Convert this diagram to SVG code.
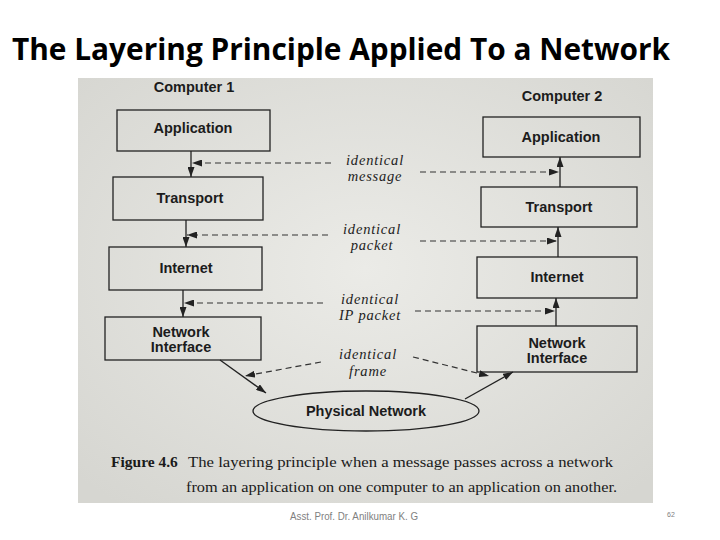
<svg xmlns="http://www.w3.org/2000/svg" width="720" height="540" viewBox="0 0 720 540">
<style>
.title{font-family:"Open Sans","Liberation Sans",sans-serif;font-weight:bold;font-size:30px;fill:#000}
.box{fill:none;stroke:#222;stroke-width:1.3}
.bt{font-family:"Liberation Sans",Arial,sans-serif;font-weight:bold;font-size:14.5px;fill:#1c1c1c;text-anchor:middle}
.lbl{font-family:"Liberation Serif","Times New Roman",serif;font-style:italic;font-size:14.5px;letter-spacing:0.8px;fill:#222;text-anchor:middle}
.cap{font-family:"Liberation Serif","Times New Roman",serif;font-size:15.5px;fill:#1a1a1a}
.solid{stroke:#222;stroke-width:1.3;fill:none}
.dash{stroke:#333;stroke-width:1.2;fill:none;stroke-dasharray:6 4}
.foot{font-family:"Liberation Sans",Arial,sans-serif;fill:#7f7f7f}
</style>
<defs>
<marker id="ah" markerUnits="userSpaceOnUse" markerWidth="10" markerHeight="7" refX="10" refY="3.5" orient="auto">
<path d="M0,0 L10,3.5 L0,7 z" fill="#222"/>
</marker>
<radialGradient id="bg" cx="50%" cy="45%" r="70%">
<stop offset="0" stop-color="#ebebe7"/>
<stop offset="1" stop-color="#d6d6d1"/>
</radialGradient>
</defs>
<rect width="720" height="540" fill="#fff"/>
<text class="title" x="12" y="60" textLength="658" lengthAdjust="spacingAndGlyphs">The Layering Principle Applied To a Network</text>
<rect x="78" y="78" width="575" height="425" fill="url(#bg)"/>

<g id="computer1-label"><text class="bt" x="194" y="92">Computer 1</text></g>
<g id="computer2-label"><text class="bt" x="562" y="101">Computer 2</text></g>

<g id="app1"><rect class="box" x="117" y="110" width="153" height="41"/><text class="bt" x="193" y="133">Application</text></g>
<g id="transport1"><rect class="box" x="113" y="177" width="150" height="43"/><text class="bt" x="190" y="203">Transport</text></g>
<g id="internet1"><rect class="box" x="109" y="247" width="153" height="43"/><text class="bt" x="186" y="273">Internet</text></g>
<g id="netif1"><rect class="box" x="105" y="317" width="156" height="43"/><text class="bt" x="181" y="337">Network</text><text class="bt" x="181" y="352">Interface</text></g>

<g id="app2"><rect class="box" x="483" y="117" width="157" height="40"/><text class="bt" x="561" y="142">Application</text></g>
<g id="transport2"><rect class="box" x="481" y="187" width="156" height="40"/><text class="bt" x="559" y="212">Transport</text></g>
<g id="internet2"><rect class="box" x="477" y="257" width="160" height="41"/><text class="bt" x="557" y="282">Internet</text></g>
<g id="netif2"><rect class="box" x="477" y="326" width="160" height="46"/><text class="bt" x="557" y="348">Network</text><text class="bt" x="557" y="363">Interface</text></g>

<g id="physical"><ellipse class="box" cx="366" cy="411" rx="113" ry="20"/><text class="bt" x="366" y="416">Physical Network</text></g>

<g id="labels">
<text class="lbl" x="375" y="164.5">identical</text><text class="lbl" x="375" y="181">message</text>
<text class="lbl" x="372" y="233.5">identical</text><text class="lbl" x="372" y="250">packet</text>
<text class="lbl" x="370" y="303.5">identical</text><text class="lbl" x="370" y="320">IP packet</text>
<text class="lbl" x="368" y="359">identical</text><text class="lbl" x="368" y="375.5">frame</text>
</g>

<g id="connectors">
<line class="solid" x1="191" y1="151" x2="191" y2="177" marker-end="url(#ah)"/>
<line class="solid" x1="186" y1="220" x2="186" y2="247" marker-end="url(#ah)"/>
<line class="solid" x1="183" y1="290" x2="183" y2="317" marker-end="url(#ah)"/>
<line class="solid" x1="220" y1="360" x2="266" y2="393" marker-end="url(#ah)"/>
<line class="solid" x1="465" y1="399" x2="513" y2="372" marker-end="url(#ah)"/>
<line class="solid" x1="556" y1="326" x2="556" y2="298" marker-end="url(#ah)"/>
<line class="solid" x1="558" y1="257" x2="558" y2="227" marker-end="url(#ah)"/>
<line class="solid" x1="560" y1="187" x2="560" y2="157" marker-end="url(#ah)"/>
<line class="dash" x1="331" y1="163" x2="192" y2="163" marker-end="url(#ah)"/>
<line class="dash" x1="328" y1="235" x2="187" y2="235" marker-end="url(#ah)"/>
<line class="dash" x1="323" y1="303" x2="184" y2="303" marker-end="url(#ah)"/>
<line class="dash" x1="321" y1="362" x2="245" y2="376" marker-end="url(#ah)"/>
<line class="dash" x1="420" y1="172" x2="559" y2="172" marker-end="url(#ah)"/>
<line class="dash" x1="420" y1="241" x2="557" y2="241" marker-end="url(#ah)"/>
<line class="dash" x1="415" y1="311" x2="555" y2="311" marker-end="url(#ah)"/>
<line class="dash" x1="413" y1="357" x2="489" y2="376" marker-end="url(#ah)"/>
</g>

<g id="caption">
<text class="cap" x="111" y="467" font-weight="bold">Figure 4.6</text>
<text class="cap" x="188" y="467" textLength="425" lengthAdjust="spacingAndGlyphs">The layering principle when a message passes across a network</text>
<text class="cap" x="186" y="492" textLength="431" lengthAdjust="spacingAndGlyphs">from an application on one computer to an application on another.</text>
</g>

<g id="footer">
<text class="foot" x="290" y="520" font-size="10" textLength="128" lengthAdjust="spacingAndGlyphs">Asst. Prof. Dr. Anilkumar K. G</text>
<text class="foot" x="667" y="517" font-size="7">62</text>
</g>
</svg>
